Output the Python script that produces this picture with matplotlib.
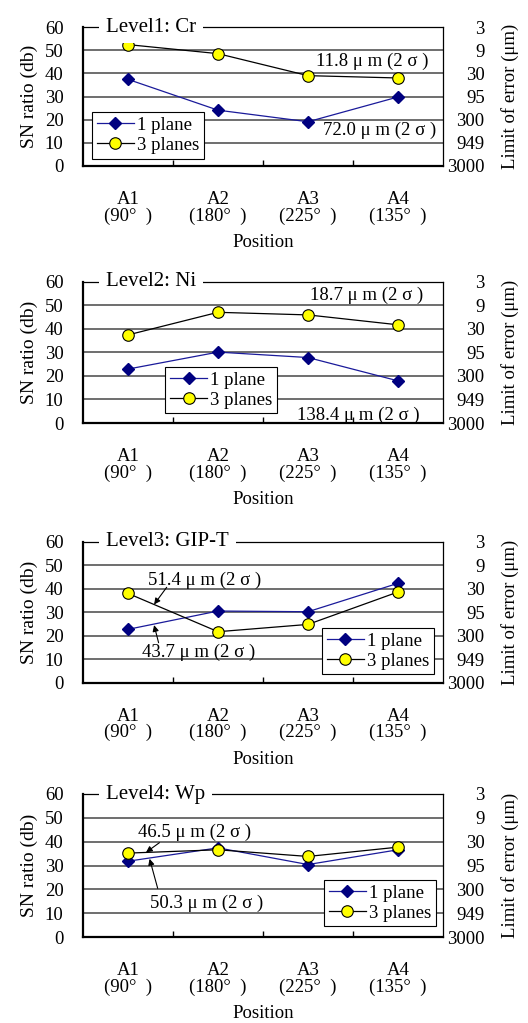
import numpy as np
import matplotlib.pyplot as plt

plt.rcParams['font.family'] = ['Liberation Serif', 'DejaVu Serif']
plt.rcParams['font.size'] = 13.5

# Dane
pozycje = ['A1\n(90°  )', 'A2\n(180°  )', 'A3\n(225°  )', 'A4\n(135°  )']
tytuly = ['Level1: Cr', 'Level2: Ni', 'Level3: GIP-T', 'Level4: Wp']
sn_1_plane = [
    [37.4, 24.1, 19.1, 29.8],
    [22.9, 30.1, 27.8, 17.9],
    [22.7, 30.5, 30.2, 42.3],
    [31.8, 37.4, 30.4, 36.6],
]
sn_3_planes = [
    [52.4, 48.5, 39.0, 38.0],
    [37.4, 47.0, 45.9, 41.7],
    [38.0, 21.7, 24.8, 38.6],
    [35.2, 36.6, 33.8, 37.7],
]
sn_ticks = [0, 10, 20, 30, 40, 50, 60]
blad_labels = ['3000', '949', '300', '95', '30', '9', '3']

# Opisy: (tekst, x, y, strzalka_od, strzalka_do)
opisy = [
    [('11.8 μ m (2 σ )', 2.09, 45.3, None, None),
     ('72.0 μ m (2 σ )', 2.17, 15.5, None, None)],
    [('18.7 μ m (2 σ )', 2.02, 54.4, None, None),
     ('138.4 μ m (2 σ )', 1.88, 3.4, None, None)],
    [('51.4 μ m (2 σ )', 0.22, 43.7, (0.43, 40.6), (0.29, 33.3)),
     ('43.7 μ m (2 σ )', 0.16, 13.1, (0.34, 17.0), (0.29, 24.5))],
    [('46.5 μ m (2 σ )', 0.11, 44.1, (0.35, 39.6), (0.20, 35.5)),
     ('50.3 μ m (2 σ )', 0.24, 14.3, (0.33, 20.4), (0.24, 32.8))],
]
legenda_pos = [(0.025, 0.388), (0.228, 0.396), (0.664, 0.388), (0.669, 0.399)]

# Polozenie osi (w pikselach od gory)
osie_px = [(27, 166), (281.7, 423), (541.7, 682.7), (794, 937)]
W, H = 528, 1023
lewa, prawa = 83, 443

fig = plt.figure(figsize=(W / 100, H / 100), dpi=100)
x = np.arange(len(pozycje))

for i in range(4):
    top, bot = osie_px[i]
    h_px = bot - top
    ax = fig.add_axes([lewa / W, 1 - bot / H, (prawa - lewa) / W, h_px / H])
    ax.set_xlim(-0.5, 3.5)
    ax.set_ylim(0, 60)
    for yy in sn_ticks[1:-1]:
        ax.axhline(yy, color='#555555', lw=1.2, zorder=1)

    ax.plot(x, sn_1_plane[i], color='#1a1a9a', lw=0.9, marker='D', markersize=6.3,
            markerfacecolor='#000080', markeredgecolor='#000080', label='1 plane', zorder=3)
    ax.plot(x, sn_3_planes[i], color='black', lw=0.9, marker='o', markersize=8.3,
            markerfacecolor='#ffff00', markeredgecolor='black', markeredgewidth=0.8,
            label='3 planes', zorder=4)

    ax.set_yticks(sn_ticks)
    ax.tick_params(axis='y', length=0, pad=14)
    ax.set_xticks(x)
    ax.set_xticklabels(pozycje, linespacing=0.95)
    ax.set_xticks([0.5, 1.5, 2.5], minor=True)
    ax.tick_params(axis='x', which='major', length=0, pad=18)
    ax.tick_params(axis='x', which='minor', direction='in', length=4, width=1)

    ax.spines['left'].set_linewidth(1.6)
    ax.spines['bottom'].set_linewidth(1.6)
    ax.spines['right'].set_linewidth(0.9)
    ax.spines['top'].set_linewidth(0.9)

    ax.set_ylabel('SN ratio (db)', fontsize=14)
    ax.yaxis.set_label_coords(-0.125, 0.5)
    ax.set_xlabel('Position')
    ax.xaxis.set_label_coords(0.5, -68 / h_px)

    ax.text(0.064, 1.0, tytuly[i], transform=ax.transAxes, fontsize=15,
            va='center', ha='left', zorder=10,
            bbox=dict(facecolor='white', edgecolor='none', pad=5))

    for tekst, tx, ty, od, do in opisy[i]:
        ax.text(tx, ty, tekst, va='center', ha='left', zorder=5)
        if od is not None:
            ax.annotate('', xy=do, xytext=od,
                        arrowprops=dict(arrowstyle='-|>', color='black', lw=0.8,
                                        mutation_scale=9, shrinkA=0, shrinkB=0))

    leg = ax.legend(loc='upper left', bbox_to_anchor=legenda_pos[i], fontsize=13.5,
                    fancybox=False, edgecolor='black', framealpha=1,
                    handlelength=2.0, handletextpad=0.15, borderpad=0.25,
                    labelspacing=0.15, borderaxespad=0)
    leg.get_frame().set_linewidth(0.8)
    leg.set_zorder(6)

    ax2 = ax.twinx()
    ax2.set_ylim(0, 60)
    ax2.set_yticks(sn_ticks)
    ax2.set_yticklabels(blad_labels, ha='right')
    ax2.tick_params(axis='y', length=0, pad=30)
    ax2.set_ylabel('Limit of error (μm)')
    ax2.yaxis.set_label_coords(1.161, 0.5)
    for s in ax2.spines.values():
        s.set_visible(False)

fig.savefig('out.png', dpi=100)
